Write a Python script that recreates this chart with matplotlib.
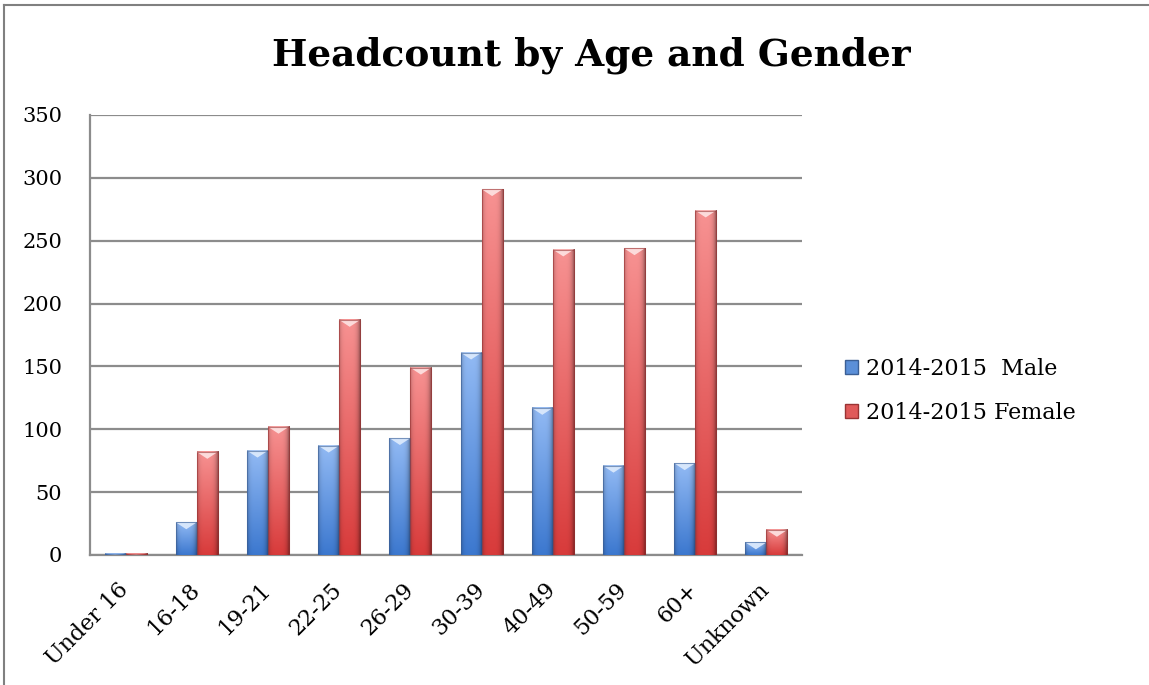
import numpy as np
import matplotlib
matplotlib.use("Agg")
import matplotlib.pyplot as plt
from matplotlib.colors import to_rgb
from matplotlib.lines import Line2D
from matplotlib.patches import Patch, Polygon
from matplotlib.transforms import ScaledTranslation

plt.rcParams["font.family"] = ["DejaVu Serif"]

categories = ["Under 16", "16-18", "19-21", "22-25", "26-29",
              "30-39", "40-49", "50-59", "60+", "Unknown"]
male = [1, 26, 83, 87, 93, 161, 117, 71, 73, 10]
female = [1, 82, 102, 187, 149, 291, 243, 244, 274, 20]
series_labels = ["2014-2015  Male", "2014-2015 Female"]

GRID = "#8c8c8c"
# (top colour, bottom colour, bevel colour, edge colour)
MALE_STYLE = ("#92baf4", "#3c78cf", "#dbe9fc", "#3b5f95")
FEMALE_STYLE = ("#f79292", "#d83b3b", "#fde0e0", "#9a3434")
BAR_W = 0.295


def gradient_fill(ax, bar, style):
    top_c, bot_c, bevel_c, edge_c = style
    x0 = bar.get_x()
    x1 = x0 + bar.get_width()
    h = bar.get_height()
    ny, nx = 80, 40
    v = np.linspace(0, 1, ny)[:, None, None]
    u = np.linspace(-1, 1, nx)[None, :, None]
    img = np.array(to_rgb(top_c)) * (1 - v) + np.array(to_rgb(bot_c)) * v
    shade = 1 - 0.32 * np.abs(u + 0.1) ** 4
    img = np.clip(img * shade, 0, 1)
    ax.imshow(img, extent=(x0, x1, 0, h), origin="upper", aspect="auto",
              interpolation="bilinear", zorder=3)
    # bevel triangle on the top face
    th = min(5.5, h)
    ax.add_patch(Polygon([(x0, h), (x1, h), ((x0 + x1) / 2, h - th)],
                         closed=True, facecolor=bevel_c, edgecolor="none",
                         alpha=0.95, zorder=4))
    ax.add_patch(Polygon([(x0, 0), (x0, h), (x1, h), (x1, 0)], closed=True,
                         facecolor="none", edgecolor=edge_c, lw=0.8,
                         alpha=0.6, zorder=5))


fig = plt.figure(figsize=(11.49, 6.85), dpi=100)
ax = fig.add_axes([90 / 1149, 130 / 685, 712 / 1149, 440 / 685])

x = np.arange(len(categories))
bars_m = ax.bar(x - BAR_W / 2, male, BAR_W, color="none", zorder=2)
bars_f = ax.bar(x + BAR_W / 2, female, BAR_W, color="none", zorder=2)
for b in bars_m:
    gradient_fill(ax, b, MALE_STYLE)
for b in bars_f:
    gradient_fill(ax, b, FEMALE_STYLE)

ax.set_xlim(-0.5, len(categories) - 0.5)
ax.set_ylim(0, 350)
ax.set_yticks(range(0, 351, 50))
ax.yaxis.grid(True, color=GRID, lw=1.6, zorder=0)
ax.set_axisbelow(True)
for side in ("top", "right"):
    ax.spines[side].set_visible(False)
for side in ("left", "bottom"):
    ax.spines[side].set_color(GRID)
    ax.spines[side].set_linewidth(1.6)
ax.tick_params(axis="y", length=0, labelsize=15, pad=20)
ax.set_xticks(x)
ax.set_xticklabels(categories, rotation=45, ha="right",
                   rotation_mode="anchor")
ax.tick_params(axis="x", length=0, labelsize=16, pad=17)
shift = ScaledTranslation(-8 / 100, 0, fig.dpi_scale_trans)
for lbl in ax.get_xticklabels():
    lbl.set_transform(lbl.get_transform() + shift)

handles = [Patch(facecolor="#5b8fd8", edgecolor="#3b5f95"),
           Patch(facecolor="#e05a5a", edgecolor="#9a3434")]
fig.legend(handles, series_labels, loc="center left",
           bbox_to_anchor=(825 / 1149, 1 - 391 / 685), frameon=False,
           fontsize=16, handlelength=0.6, handleheight=0.6,
           handletextpad=0.35, labelspacing=1.0)

fig.text(0.515, 1 - 65 / 685, "Headcount by Age and Gender",
         ha="center", va="baseline", fontsize=27, fontweight="bold")

# outer chart frame (left and top edges are in view)
fig.add_artist(Line2D([3.5 / 1149, 3.5 / 1149], [0, 1 - 5 / 685],
                      color="#808080", lw=1.5))
fig.add_artist(Line2D([3.5 / 1149, 1], [1 - 5 / 685, 1 - 5 / 685],
                      color="#808080", lw=1.5))

fig.savefig("out.png", dpi=100)
